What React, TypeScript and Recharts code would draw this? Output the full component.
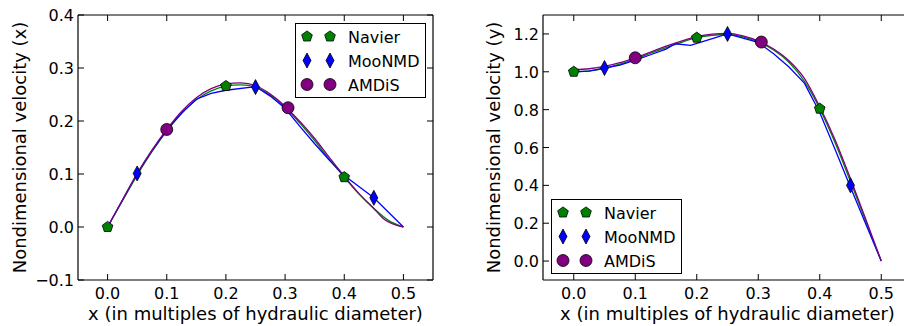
import React from "react";
import { ComposedChart, Line, XAxis, YAxis } from "recharts";

const FONT = "'DejaVu Sans', sans-serif";

const xTicks = [0, 0.1, 0.2, 0.3, 0.4, 0.5];
const yTicksLeft = [-0.1, 0, 0.1, 0.2, 0.3, 0.4];
const yTicksRight = [0, 0.2, 0.4, 0.6, 0.8, 1.0, 1.2];

const seriesNames = ["Navier", "MooNMD", "AMDiS"];
const seriesColors = ["#008000", "#0000ff", "#800080"];
const seriesShapes = ["pentagon", "diamond", "circle"];

// shared x grid for the smooth curves
const curveX = [0, 0.025, 0.05, 0.075, 0.1, 0.125, 0.15, 0.175, 0.2, 0.225, 0.25, 0.275, 0.3, 0.325, 0.35, 0.375, 0.4, 0.425, 0.45, 0.475, 0.5];

// left panel (x velocity)
const navierLeftY = [0, 0.049, 0.098, 0.142, 0.181, 0.214, 0.24, 0.257, 0.266, 0.268, 0.264, 0.249, 0.226, 0.196, 0.163, 0.127, 0.094, 0.062, 0.035, 0.012, 0];
const mooLeftX = [0, 0.05, 0.075, 0.1, 0.125, 0.15, 0.175, 0.2, 0.25, 0.275, 0.3, 0.325, 0.35, 0.375, 0.4, 0.45, 0.5];
const mooLeftY = [0, 0.101, 0.144, 0.183, 0.215, 0.241, 0.252, 0.258, 0.265, 0.247, 0.224, 0.19, 0.157, 0.126, 0.097, 0.055, 0];
const amdisLeftX = [0, 0.025, 0.05, 0.075, 0.1, 0.125, 0.15, 0.175, 0.2, 0.225, 0.25, 0.275, 0.3, 0.325, 0.35, 0.375, 0.4, 0.425, 0.45, 0.468, 0.5];
const amdisLeftY = [0, 0.051, 0.101, 0.145, 0.184, 0.218, 0.244, 0.261, 0.27, 0.272, 0.267, 0.251, 0.228, 0.199, 0.167, 0.131, 0.096, 0.063, 0.035, 0.014, 0];

// right panel (y velocity)
const navierRightY = [1.0, 1.005, 1.018, 1.04, 1.068, 1.098, 1.128, 1.156, 1.18, 1.193, 1.197, 1.185, 1.158, 1.115, 1.05, 0.95, 0.805, 0.625, 0.42, 0.21, 0];
const mooRightX = [0, 0.025, 0.05, 0.075, 0.1, 0.125, 0.15, 0.165, 0.19, 0.22, 0.25, 0.3, 0.325, 0.35, 0.375, 0.4, 0.425, 0.45, 0.475, 0.5];
const mooRightY = [1.0, 1.003, 1.02, 1.035, 1.062, 1.09, 1.12, 1.148, 1.14, 1.17, 1.2, 1.155, 1.095, 1.025, 0.94, 0.785, 0.59, 0.39, 0.195, 0];
const amdisRightY = [1.011, 1.016, 1.028, 1.048, 1.074, 1.104, 1.135, 1.162, 1.186, 1.199, 1.203, 1.19, 1.163, 1.12, 1.058, 0.965, 0.815, 0.64, 0.435, 0.22, 0];

// marker positions
const navierMarkX = [0, 0.2, 0.4];
const mooMarkX = [0.05, 0.25, 0.45];
const amdisMarkX = [0.1, 0.305];
const navierMarkLeft = [0, 0.266, 0.094];
const mooMarkLeft = [0.101, 0.264, 0.055];
const amdisMarkLeft = [0.184, 0.225];
const navierMarkRight = [1.0, 1.18, 0.805];
const mooMarkRight = [1.02, 1.2, 0.4];
const amdisMarkRight = [1.074, 1.157];

const zip = (xs: number[], ys: number[]) => xs.map((x, i) => ({ x, y: ys[i] }));

const fmt = (v: number) => v.toFixed(1).replace("-", "\u2212");

function Marker({ kind, cx, cy, color }: { kind: string; cx: number; cy: number; color: string }) {
  if (kind === "pentagon") {
    const r = 5.6;
    const pts = [0, 1, 2, 3, 4]
      .map((k) => {
        const a = ((-90 + k * 72) * Math.PI) / 180;
        return `${cx + r * Math.cos(a)},${cy + r * Math.sin(a)}`;
      })
      .join(" ");
    return <polygon points={pts} fill={color} stroke="#000" strokeWidth={0.8} />;
  }
  if (kind === "diamond") {
    const w = 4, h = 7.5;
    return (
      <polygon
        points={`${cx},${cy - h} ${cx + w},${cy} ${cx},${cy + h} ${cx - w},${cy}`}
        fill={color}
        stroke="#000"
        strokeWidth={0.8}
      />
    );
  }
  return <circle cx={cx} cy={cy} r={6} fill={color} stroke="#000" strokeWidth={0.8} />;
}

const TICK = 6;
const tickText = { fontSize: 16, fontFamily: FONT, fill: "#000" };

const BottomTick = (p: any) => (
  <g>
    <line x1={p.x} y1={p.y} x2={p.x} y2={p.y - TICK} stroke="#000" />
    <text x={p.x} y={p.y + 18.5} textAnchor="middle" {...tickText}>{fmt(p.payload.value)}</text>
  </g>
);
const TopTick = (p: any) => <line x1={p.x} y1={p.y} x2={p.x} y2={p.y + TICK} stroke="#000" />;
const LeftTick = (p: any) => (
  <g>
    <line x1={p.x} y1={p.y} x2={p.x + TICK} y2={p.y} stroke="#000" />
    <text x={p.x - 4} y={p.y + 6} textAnchor="end" {...tickText}>{fmt(p.payload.value)}</text>
  </g>
);
const RightTick = (p: any) => <line x1={p.x} y1={p.y} x2={p.x - TICK} y2={p.y} stroke="#000" />;

function LegendBox({ left, top }: { left: number; top: number }) {
  return (
    <div
      style={{
        position: "absolute",
        left,
        top,
        width: 131,
        height: 75,
        boxSizing: "border-box",
        border: "1.2px solid #000",
        background: "#fff",
      }}
    >
      <svg width={129} height={73} style={{ display: "block" }}>
        {seriesNames.map((name, i) => (
          <g key={name}>
            <Marker kind={seriesShapes[i]} cx={11} cy={12.5 + i * 24} color={seriesColors[i]} />
            <Marker kind={seriesShapes[i]} cx={34} cy={12.5 + i * 24} color={seriesColors[i]} />
            <text x={52} y={18.5 + i * 24} fontSize={16} fontFamily={FONT} fill="#000">{name}</text>
          </g>
        ))}
      </svg>
    </div>
  );
}

type Panel = {
  left: number;
  width: number;
  axisLeft: number;
  axisRight: number;
  yDomain: [number, number];
  yTicks: number[];
  yTitle: string;
  yTitleX: number;
  curves: { x: number; y: number }[][];
  curveTypes: ("monotone" | "linear")[];
  markers: { x: number; y: number }[][];
  legend: { left: number; top: number };
};

function VelocityPanel(p: Panel) {
  const H = 326;
  const plotTop = 15;
  const plotBottom = 280;
  const plotLeft = p.axisLeft;
  const plotRight = p.width - p.axisRight;
  return (
    <div style={{ position: "absolute", left: p.left, top: 0, width: p.width, height: H }}>
      <ComposedChart width={p.width} height={H} margin={{ top: 0, right: 0, bottom: 0, left: 0 }}>
        <XAxis
          type="number"
          dataKey="x"
          domain={[-0.05, 0.55]}
          ticks={xTicks}
          interval={0}
          allowDataOverflow
          height={H - plotBottom}
          tickSize={0}
          tickMargin={0}
          tickLine={false}
          tick={BottomTick}
          axisLine={{ stroke: "#000", strokeWidth: 1.2 }}
        />
        <XAxis
          xAxisId="t"
          orientation="top"
          type="number"
          dataKey="x"
          domain={[-0.05, 0.55]}
          ticks={xTicks}
          interval={0}
          allowDataOverflow
          height={plotTop}
          tickSize={0}
          tickMargin={0}
          tickLine={false}
          tick={TopTick}
          axisLine={{ stroke: "#000", strokeWidth: 1.2 }}
        />
        <YAxis
          type="number"
          domain={p.yDomain}
          ticks={p.yTicks}
          interval={0}
          allowDataOverflow
          width={plotLeft}
          tickSize={0}
          tickMargin={0}
          tickLine={false}
          tick={LeftTick}
          axisLine={{ stroke: "#000", strokeWidth: 1.2 }}
        />
        <YAxis
          yAxisId="r"
          orientation="right"
          type="number"
          domain={p.yDomain}
          ticks={p.yTicks}
          interval={0}
          allowDataOverflow
          width={p.axisRight}
          tickSize={0}
          tickMargin={0}
          tickLine={false}
          tick={RightTick}
          axisLine={{ stroke: "#000", strokeWidth: 1.2 }}
        />
        {seriesNames.flatMap((name, i) => [
          <Line
            key={`${name}-line`}
            data={p.curves[i]}
            dataKey="y"
            type={p.curveTypes[i]}
            stroke={seriesColors[i]}
            strokeWidth={1.3}
            dot={false}
            activeDot={false}
            legendType="none"
            isAnimationActive={false}
          />,
          <Line
            key={`${name}-marks`}
            data={p.markers[i]}
            dataKey="y"
            stroke="none"
            activeDot={false}
            legendType="none"
            isAnimationActive={false}
            dot={(d: any) => (
              <Marker key={`${name}-m-${d.index}`} kind={seriesShapes[i]} cx={d.cx} cy={d.cy} color={seriesColors[i]} />
            )}
          />,
        ])}
      </ComposedChart>
      <svg width={p.width} height={H} style={{ position: "absolute", left: 0, top: 0, pointerEvents: "none" }}>
        <text
          transform={`translate(${p.yTitleX},${(plotTop + plotBottom) / 2}) rotate(-90)`}
          textAnchor="middle"
          dominantBaseline="central"
          fontSize={18}
          fontFamily={FONT}
          fill="#000"
        >
          {p.yTitle}
        </text>
        <text x={(plotLeft + plotRight) / 2} y={319.5} textAnchor="middle" fontSize={18} fontFamily={FONT} fill="#000">
          x (in multiples of hydraulic diameter)
        </text>
      </svg>
      <LegendBox left={p.legend.left} top={p.legend.top} />
    </div>
  );
}

export default function App() {
  return (
    <div style={{ position: "absolute", left: 0, top: 0, width: 904, height: 326, overflow: "hidden", background: "#fff" }}>
      <VelocityPanel
        left={0}
        width={450}
        axisLeft={78}
        axisRight={17}
        yDomain={[-0.1, 0.4]}
        yTicks={yTicksLeft}
        yTitle="Nondimensional velocity (x)"
        yTitleX={19}
        curves={[zip(curveX, navierLeftY), zip(mooLeftX, mooLeftY), zip(amdisLeftX, amdisLeftY)]}
        curveTypes={["monotone", "linear", "monotone"]}
        markers={[zip(navierMarkX, navierMarkLeft), zip(mooMarkX, mooMarkLeft), zip(amdisMarkX, amdisMarkLeft)]}
        legend={{ left: 295, top: 23 }}
      />
      <VelocityPanel
        left={450}
        width={470}
        axisLeft={93}
        axisRight={8}
        yDomain={[-0.1, 1.3]}
        yTicks={yTicksRight}
        yTitle="Nondimensional velocity (y)"
        yTitleX={43}
        curves={[zip(curveX, navierRightY), zip(mooRightX, mooRightY), zip(curveX, amdisRightY)]}
        curveTypes={["monotone", "linear", "monotone"]}
        markers={[zip(navierMarkX, navierMarkRight), zip(mooMarkX, mooMarkRight), zip(amdisMarkX, amdisMarkRight)]}
        legend={{ left: 101, top: 199 }}
      />
    </div>
  );
}
